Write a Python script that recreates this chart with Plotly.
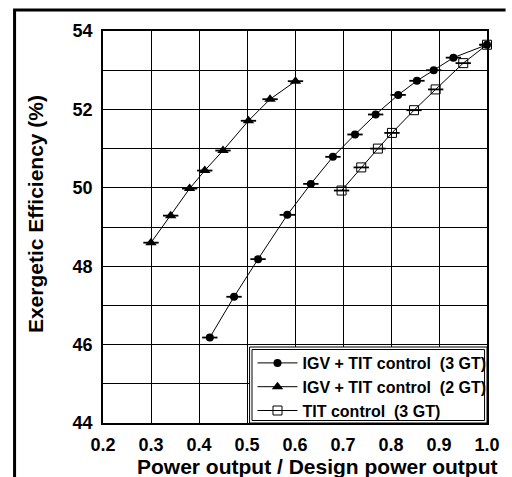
import plotly.graph_objects as go

# Data
x_igv3 = [0.4225, 0.473, 0.523, 0.584, 0.633, 0.679, 0.725, 0.768, 0.815, 0.854, 0.889, 0.930, 1.0]
y_igv3 = [46.18, 47.22, 48.18, 49.31, 50.10, 50.79, 51.36, 51.87, 52.37, 52.73, 53.00, 53.32, 53.65]

x_igv2 = [0.300, 0.341, 0.3805, 0.412, 0.450, 0.503, 0.548, 0.601]
y_igv2 = [48.60, 49.29, 49.98, 50.44, 50.95, 51.71, 52.26, 52.72]

x_tit3 = [0.697, 0.738, 0.7727, 0.802, 0.848, 0.893, 0.9505, 1.0]
y_tit3 = [49.93, 50.52, 51.00, 51.40, 51.98, 52.51, 53.18, 53.65]

names = ["IGV + TIT control\u00a0\u00a0(3 GT)",
         "IGV + TIT control\u00a0\u00a0(2 GT)",
         "TIT control\u00a0\u00a0(3 GT)"]

x_ticks = [0.2, 0.3, 0.4, 0.5, 0.6, 0.7, 0.8, 0.9, 1.0]
x_ticklabels = ["0.2", "0.3", "0.4", "0.5", "0.6", "0.7", "0.8", "0.9", "1.0"]
y_ticks = [44, 45, 46, 47, 48, 49, 50, 51, 52, 53, 54]
y_ticklabels = ["44", "", "46", "", "48", "", "50", "", "52", "", "54"]

FONT = "Arial, 'Liberation Sans', sans-serif"
W, H = 512, 477
L, R, T, B = 103, 16, 31, 54
pw = W - L - R
ph = H - T - B

def px2x(px):
    return (px - L) / pw

def py2y(py):
    return (H - B - py) / ph

def bold(s):
    return f"<b>{s}</b>" if s else ""

err = dict(type="constant", value=0.016, width=0, thickness=1.8, color="black")

fig = go.Figure()
fig.add_trace(go.Scatter(
    x=x_igv3, y=y_igv3, name=bold(names[0]), mode="lines+markers",
    line=dict(color="black", width=1),
    marker=dict(symbol="circle", size=8, color="black"),
    error_x=err, cliponaxis=False))
fig.add_trace(go.Scatter(
    x=x_igv2, y=y_igv2, name=bold(names[1]), mode="lines+markers",
    line=dict(color="black", width=1),
    marker=dict(symbol="triangle-up", size=10, color="black"),
    error_x=err, cliponaxis=False))
fig.add_trace(go.Scatter(
    x=x_tit3, y=y_tit3, name=bold(names[2]), mode="lines+markers",
    line=dict(color="black", width=1),
    marker=dict(symbol="square-open", size=9, color="black", line=dict(width=1, color="black")),
    error_x=err, cliponaxis=False))

shapes = []
# legend background + double border
lx0, lx1 = px2x(253), 1.0
ly0, ly1 = 0.0, py2y(347)
shapes.append(dict(type="rect", xref="paper", yref="paper", x0=lx0, x1=lx1, y0=ly0, y1=ly1,
                   fillcolor="white", line=dict(color="black", width=1), layer="above"))
shapes.append(dict(type="rect", xref="paper", yref="paper",
                   x0=lx0 + 2.5 / pw, x1=lx1 - 2.5 / pw, y0=ly0 + 2.5 / ph, y1=ly1 - 2.5 / ph,
                   fillcolor="rgba(0,0,0,0)", line=dict(color="black", width=1), layer="above"))
# outer thick frame (top and left)
fx = px2x(12.5)
fy = py2y(10)
shapes.append(dict(type="path", xref="paper", yref="paper",
                   path=f"M {fx} {py2y(480)} L {fx} {fy} L {px2x(515)} {fy}",
                   line=dict(color="black", width=3), layer="above"))

annotations = [
    dict(text="<b>Power output / Design power output</b>", xref="paper", yref="paper",
         x=px2x(322), y=py2y(466), xanchor="center", yanchor="middle", showarrow=False,
         font=dict(family=FONT, size=21, color="black")),
    dict(text="<b>Exergetic Efficiency (%)</b>", xref="paper", yref="paper",
         x=px2x(34), y=py2y(214.5), xanchor="center", yanchor="middle", showarrow=False,
         textangle=-90,
         font=dict(family=FONT, size=21, color="black")),
]

fig.update_layout(
    width=W, height=H, autosize=False,
    margin=dict(l=L, r=R, t=T, b=B, pad=0),
    paper_bgcolor="white", plot_bgcolor="white",
    font=dict(family=FONT, color="black"),
    showlegend=True,
    legend=dict(x=px2x(256), y=py2y(346), xanchor="left", yanchor="top",
                bgcolor="rgba(0,0,0,0)", borderwidth=0,
                font=dict(family=FONT, size=16, color="black"),
                tracegroupgap=0, itemwidth=40),
    shapes=shapes,
    annotations=annotations,
    xaxis=dict(range=[0.2, 1.0], tickvals=x_ticks, ticktext=[bold(t) for t in x_ticklabels],
               showgrid=True, gridcolor="black", gridwidth=1,
               showline=True, linecolor="black", linewidth=1.5, mirror=True,
               ticks="", ticklabelstandoff=5, zeroline=False,
               tickfont=dict(family=FONT, size=18, color="black", weight="bold")),
    yaxis=dict(range=[44, 54], tickvals=y_ticks, ticktext=[bold(t) for t in y_ticklabels],
               showgrid=True, gridcolor="black", gridwidth=1,
               showline=True, linecolor="black", linewidth=1.5, mirror=True,
               ticks="", ticklabelstandoff=5, zeroline=False,
               tickfont=dict(family=FONT, size=18, color="black", weight="bold")),
)

fig.write_html("out.html")
